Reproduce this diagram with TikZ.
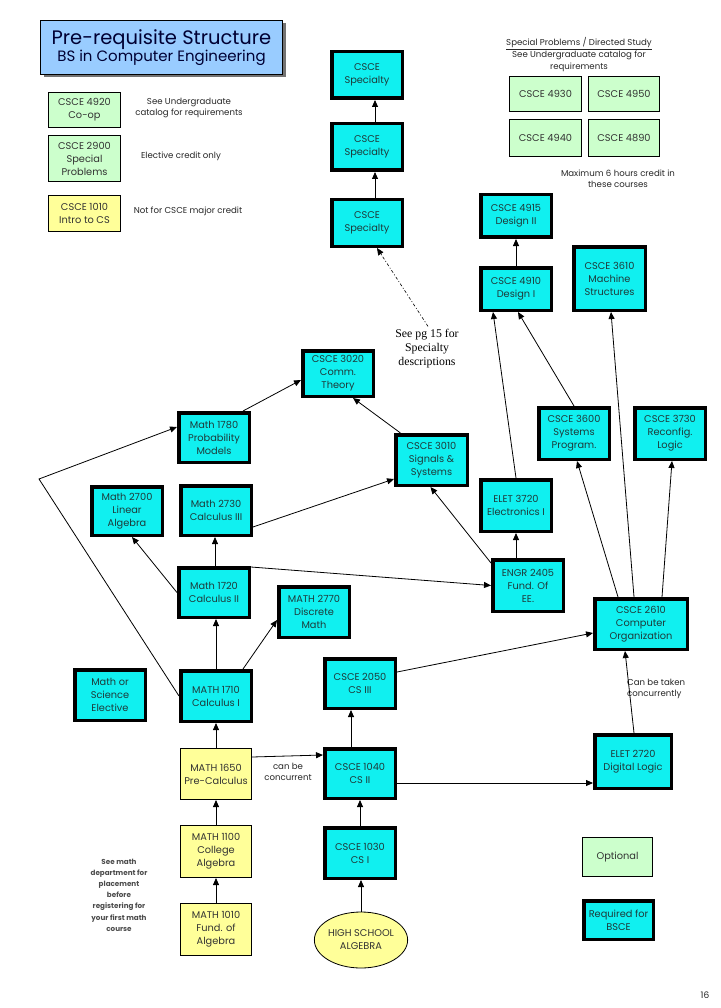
\documentclass[tikz,border=0pt]{standalone}
\usepackage{fontspec}
\setmainfont{Poppins}
\newfontfamily\serifnote{Liberation Serif}
\usetikzlibrary{arrows.meta,shapes.geometric,shadows}
\definecolor{cyanC}{HTML}{10F0F0}
\definecolor{greenC}{HTML}{CCFFCC}
\definecolor{yellowC}{HTML}{FFFF99}
\definecolor{titleC}{HTML}{99CCFF}
\definecolor{txt}{HTML}{1E3A3A}
\newcommand{\boxfont}{\fontsize{9.8}{13}\selectfont}
\newcommand{\smallnote}{\fontsize{8.6}{11}\selectfont}
\tikzset{
  req/.style={draw=black, line width=3.5pt, fill=cyanC, align=center, font=\boxfont, text=txt, inner sep=1pt},
  bx/.style 2 args={minimum width={#1pt-3.5pt}, minimum height={#2pt-3.5pt}},
  opt/.style={draw=black, line width=0.8pt, fill=greenC, align=center, font=\boxfont, text=black!80, inner sep=1pt},
  yel/.style={draw=black, line width=0.8pt, fill=yellowC, align=center, font=\boxfont, text=black!80, inner sep=1pt},
  sz/.style 2 args={minimum width={#1pt-0.8pt}, minimum height={#2pt-0.8pt}},
  arr/.style={-{Triangle[length=7pt,width=6pt]}, line width=0.8pt},
  lbl/.style={font=\smallnote, align=center, inner sep=0pt, text=black!85},
}
\begin{document}
\begin{tikzpicture}[x=1pt,y=-1pt]
\useasboundingbox (0,0) rectangle (720,1008);

% title
\node[fill=titleC, draw=black, line width=0.8pt, minimum width=242pt, minimum height=54pt, align=center, text=black!80!blue, inner sep=0pt,
      drop shadow={shadow xshift=3pt, shadow yshift=-3pt, fill=black!55, opacity=1}] (title) at (161.5,47.5)
  {{\fontsize{19.5}{21}\selectfont Pre-requisite Structure}\\[-1pt]{\fontsize{15}{17}\selectfont BS in Computer Engineering}};

% legend (top left)
\node[opt,sz={73}{36}] (c4920) at (84.5,110) {CSCE 4920\\Co-op};
\node[opt,sz={73}{47}] (c2900) at (84.5,158.5) {CSCE 2900\\Special\\Problems};
\node[yel,sz={73}{37}] (c1010) at (84.5,213.5) {CSCE 1010\\Intro to CS};
\node[lbl] (t4920) at (189,108) {See Undergraduate\\catalog for requirements};
\node[lbl] (t2900) at (181,156) {Elective credit only};
\node[lbl] (t1010) at (188,211) {Not for CSCE major credit};

% special problems
\node[lbl, font=\fontsize{8.6}{12}\selectfont] (sphead) at (579,55) {\underline{Special Problems / Directed Study}\\See Undergraduate catalog for\\requirements};
\node[opt,sz={73}{36}] (c4930) at (545.5,94) {CSCE 4930};
\node[opt,sz={72}{36}] (c4950) at (624,94) {CSCE 4950};
\node[opt,sz={73}{38}] (c4940) at (545.5,138) {CSCE 4940};
\node[opt,sz={72}{38}] (c4890) at (624,138) {CSCE 4890};
\node[lbl] (maxnote) at (618,179) {Maximum 6 hours credit in\\these courses};

% required courses
\node[req,bx={74}{50}] (spec1) at (367,75) {CSCE\\Specialty};
\node[req,bx={74}{50}] (spec2) at (367,147) {CSCE\\Specialty};
\node[req,bx={74}{50}] (spec3) at (367,223) {CSCE\\Specialty};
\node[req,bx={74}{46}] (d4915) at (516,216) {CSCE 4915\\Design II};
\node[req,bx={74}{46}] (d4910) at (516,289) {CSCE 4910\\Design I};
\node[req,bx={75}{67}] (c3610) at (609.5,278.5) {CSCE 3610\\Machine\\Structures};
\node[req,bx={74}{55}] (c3600) at (574,433.5) {CSCE 3600\\Systems\\Program.};
\node[req,bx={74}{55}] (c3730) at (670,433.5) {CSCE 3730\\Reconfig.\\Logic};
\node[req,bx={75}{54}] (c3010) at (431.5,460) {CSCE 3010\\Signals \&\\Systems};
\node[req,bx={74}{55}] (e3720) at (516,505.5) {ELET 3720\\Electronics I};
\node[req,bx={74}{49}] (c3020) at (338,373.5) {CSCE 3020\\Comm.\\Theory};
\node[req,bx={74}{53}] (m1780) at (214,437.5) {Math 1780\\Probability\\Models};
\node[req,bx={74}{52}] (m2700) at (127,511) {Math 2700\\Linear\\Algebra};
\node[req,bx={74}{53}] (m2730) at (216,510.5) {Math 2730\\Calculus III};
\node[req,bx={74}{53}] (m1720) at (214,592.5) {Math 1720\\Calculus II};
\node[req,bx={74}{54}] (m2770) at (314,612) {MATH 2770\\Discrete\\Math};
\node[req,bx={74}{54}] (mse) at (110,695) {Math or\\Science\\Elective};
\node[req,bx={74}{54}] (m1710) at (216,696) {MATH 1710\\Calculus I};
\node[req,bx={74}{53}] (c2050) at (360,683.5) {CSCE 2050\\CS III};
\node[req,bx={74}{53}] (c1040) at (360,773.5) {CSCE 1040\\CS II};
\node[req,bx={74}{54}] (c1030) at (360,853) {CSCE 1030\\CS I};
\node[req,bx={74}{55}] (engr) at (528,585.5) {ENGR 2405\\Fund. Of\\EE.};
\node[req,bx={96}{54}] (c2610) at (641,624) {CSCE 2610\\Computer\\Organization};
\node[req,bx={80}{57}] (e2720) at (633,761.5) {ELET 2720\\Digital Logic};

% math prerequisites (yellow)
\node[yel,sz={72}{52}] (m1650) at (216,774) {MATH 1650\\Pre-Calculus};
\node[yel,sz={72}{53}] (m1100) at (216,851.5) {MATH 1100\\College\\Algebra};
\node[yel,sz={72}{53}] (m1010) at (216,929.5) {MATH 1010\\Fund. of\\Algebra};
\node[yel,ellipse,minimum width=85pt,minimum height=56pt,inner sep=0pt] (hs) at (361,940) {HIGH SCHOOL\\ALGEBRA};

% legend (bottom right)
\node[opt,sz={71}{40}] (optL) at (617.5,857) {Optional};
\node[req,bx={73}{42}] (reqL) at (618.5,920) {Required for\\BSCE};

% notes
\node[font=\serifnote\fontsize{11.8}{14}\selectfont, align=center, inner sep=0pt] (pg15) at (427,349) {See pg 15 for\\Specialty\\descriptions};
\node[lbl] (conc) at (288,772) {can be\\concurrent};
\node[lbl, align=left, anchor=west] (conc2) at (627,689) {Can be taken\\concurrently};
\node[lbl, font=\fontsize{7.2}{11.2}\selectfont\bfseries, text=black!70] (mathnote) at (119,895) {See math\\department for\\placement\\before\\registering for\\your first math\\course};
\node[lbl, font=\fontsize{9}{10}\selectfont] (pnum) at (705,995) {16};

% connectors
\draw[arr] ([xshift=8pt]spec3.north) -- ([xshift=8pt]spec2.south);
\draw[arr] ([xshift=8pt]spec2.north) -- ([xshift=8pt]spec1.south);
\draw[arr, line width=0.6pt, dash pattern=on 3pt off 2pt on 1pt off 2pt] ([xshift=1pt,yshift=3pt]pg15.north) -- ([xshift=10pt]spec3.south);
\draw[arr] (d4910.north) -- (d4915.south);
\draw[arr] (e3720.north) -- ([xshift=-23pt]d4910.south);
\draw[arr] (c3600.north) -- ([xshift=2pt]d4910.south);
\draw[arr] ([xshift=-23pt]c2610.north) -- ([xshift=3pt]c3600.south);
\draw[arr] ([xshift=-7pt]c2610.north) -- ([xshift=1.5pt]c3610.south);
\draw[arr] ([xshift=21pt]c2610.north) -- ([xshift=2pt]c3730.south);
\draw[arr] ([xshift=-12pt]engr.north) -- (e3720.south);
\draw[arr] ([yshift=-5pt]engr.north west) -- ([xshift=-1pt]c3010.south);
\draw[arr] ([xshift=-31pt]c3010.north) -- ([xshift=15pt]c3020.south);
\draw[arr] ([xshift=29pt]m1780.north) -- ([yshift=-6.5pt]c3020.west);
\draw[arr] ([yshift=-16.5pt]m2730.east) -- ([yshift=-19pt]c3010.west);
\draw[arr] ([yshift=-1pt]m1720.north east) -- (engr.west);
\draw[arr] ([xshift=1pt]m1720.north) -- ([xshift=1pt]m1720.north |- m2730.south);
\draw[arr] (m1720.west) -- ([xshift=5pt]m2700.south);
\draw[arr] (m1710.north) -- (m1710.north |- m1720.south);
\draw[arr] ([xshift=27pt]m1710.north) -- ([yshift=19pt]m2770.south west);
\coordinate (bend) at (39,479);
\draw[arr] (m1710.west) -- (bend) -- ([yshift=10.5pt]m1780.west);
\draw[arr] (m1650.north) -- (m1650.north |- m1710.south);
\draw[arr] ([yshift=17pt]m1650.east) -- ([yshift=18.5pt]c1040.west);
\draw[arr] ([xshift=-9pt]c1040.north) -- ([xshift=-9pt]c2050.south);
\draw[arr] ([yshift=11.5pt]c2050.east) -- ([yshift=-9pt]c2610.west);
\draw[arr] ([yshift=-9.5pt]c1040.east) -- ([yshift=-9.5pt]c1040.east -| e2720.west);
\draw[arr] ([xshift=1pt]e2720.north) -- ([xshift=-16pt]c2610.south);
\draw[arr] (m1100.north) -- (m1650.south);
\draw[arr] (m1010.north) -- (m1100.south);
\draw[arr] (hs.north) -- (hs.north |- c1030.south);
\draw[arr] (c1030.north) -- (c1040.south);
\end{tikzpicture}
\end{document}
